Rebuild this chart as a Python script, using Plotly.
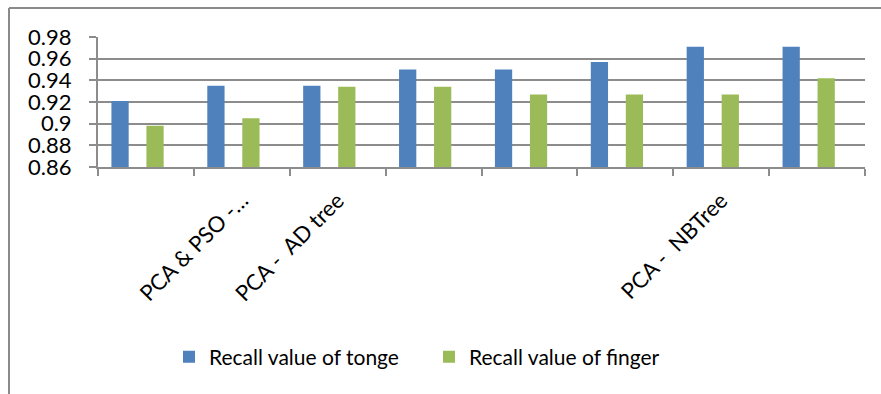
import plotly.graph_objects as go

# Recall of the classifiers, one group per method
categories = [1, 2, 3, 4, 5, 6, 7, 8]
category_labels = ["", "PCA & PSO -…", "PCA -  AD tree", "", "", "", "PCA -  NBTree", ""]
recall_tonge = [0.921, 0.935, 0.935, 0.950, 0.950, 0.957, 0.971, 0.971]
recall_finger = [0.898, 0.905, 0.934, 0.934, 0.927, 0.927, 0.927, 0.942]

y_tick_values = [0.86, 0.88, 0.90, 0.92, 0.94, 0.96, 0.98]
y_tick_text = ["0.86", "0.88", "0.9", "0.92", "0.94", "0.96", "0.98"]

W, H = 881, 394
L, R, T, B = 98, 16, 37, 227
GRID = "#8c8c8c"
FONT = "Lato"

fig = go.Figure()
fig.add_trace(go.Bar(
    x=categories, y=recall_tonge, name="Recall value of tonge",
    marker=dict(color="#4F81BD", line=dict(width=0)),
    offset=-0.36, width=0.18,
))
fig.add_trace(go.Bar(
    x=categories, y=recall_finger, name="Recall value of finger",
    marker=dict(color="#9BBB59", line=dict(width=0)),
    offset=0.005, width=0.18,
))

tick_pos = [c for c, lab in zip(categories, category_labels) if lab]
tick_txt = [lab for lab in category_labels if lab]

fig.update_xaxes(
    range=[0.5, 8.5],
    tickmode="array", tickvals=tick_pos, ticktext=tick_txt,
    tickangle=-45, ticks="outside", ticklen=10, tickcolor="rgba(0,0,0,0)",
    tickfont=dict(family=FONT, size=22, color="#000"),
    minor=dict(tick0=0.5, dtick=1, ticks="outside", ticklen=7, tickwidth=2,
               tickcolor=GRID, showgrid=False),
    showline=True, linecolor=GRID, linewidth=2,
    showgrid=False, zeroline=False,
)
fig.update_yaxes(
    range=[0.86, 0.98],
    tickmode="array", tickvals=y_tick_values, ticktext=y_tick_text,
    ticks="outside", ticklen=7, tickwidth=2, tickcolor=GRID,
    ticklabelstandoff=13,
    tickfont=dict(family=FONT, size=22, color="#000"),
    showline=True, linecolor=GRID, linewidth=2,
    showgrid=True, gridcolor=GRID, gridwidth=2, zeroline=False,
)

# outer chart frame (top and left edges)
pw, ph = W - L - R, H - T - B
fx = lambda px: (px - L) / pw
fy = lambda py: (H - B - py) / ph
frame = dict(color="#8a8a8a", width=2)
fig.add_shape(type="line", xref="paper", yref="paper",
              x0=fx(9), y0=fy(8), x1=fx(W + 5), y1=fy(8), line=frame)
fig.add_shape(type="line", xref="paper", yref="paper",
              x0=fx(9), y0=fy(8), x1=fx(9), y1=fy(H + 5), line=frame)

fig.update_layout(
    width=W, height=H,
    margin=dict(l=L, r=R, t=T, b=B, pad=0),
    paper_bgcolor="white", plot_bgcolor="white",
    barmode="overlay", showlegend=True,
    legend=dict(orientation="h", x=fx(169), xanchor="left",
                y=fy(357), yanchor="middle",
                font=dict(family=FONT, size=21, color="#000"),
                itemwidth=30, entrywidth=215, bgcolor="rgba(0,0,0,0)"),
)

fig.write_html("out.html")
